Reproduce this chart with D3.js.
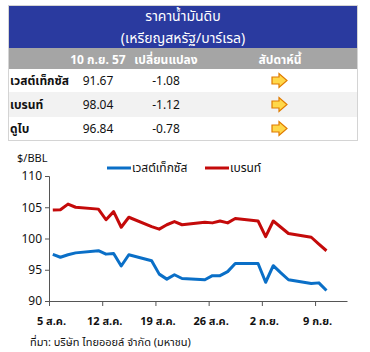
<!DOCTYPE html>
<html>
<head>
<meta charset="utf-8">
<script src="https://cdn.jsdelivr.net/npm/d3@7"></script>
<style>
  body { margin: 0; background: #fff; font-family: Tahoma, "Noto Sans Thai", "Liberation Sans", sans-serif; }
  svg text { font-family: Tahoma, "Noto Sans Thai", "Liberation Sans", sans-serif; }
</style>
</head>
<body>
<svg id="chart" width="370" height="352"></svg>
<script>
// table data
const tableTitle = ["ราคาน้ำมันดิบ", "(เหรียญสหรัฐ/บาร์เรล)"];
const tableHeads = ["10 ก.ย. 57", "เปลี่ยนแปลง", "สัปดาห์นี้"];
const crudeNames = ["เวสต์เท็กซัส", "เบรนท์", "ดูไบ"];
const crudePrices = ["91.67", "98.04", "96.84"];
const crudeChanges = ["-1.08", "-1.12", "-0.78"];

// chart data (day offset from 5 Aug 2014)
const days = [0, 1, 2, 3, 6, 7, 8, 9, 10, 13, 14, 15, 16, 17, 20, 21, 22, 23, 24, 27, 28, 29, 30, 31, 34, 35, 36];
const wti = [97.45, 97.0, 97.4, 97.7, 98.05, 97.5, 97.6, 95.6, 97.4, 96.45, 94.3, 93.5, 94.2, 93.6, 93.4, 94.05, 94.05, 94.7, 96.0, 96.0, 93.0, 95.65, 94.5, 93.4, 92.8, 92.9, 91.67];
const brent = [104.55, 104.6, 105.5, 105.0, 104.7, 103.0, 104.3, 101.8, 103.4, 101.9, 101.5, 102.2, 102.7, 102.2, 102.6, 102.5, 102.8, 102.5, 103.2, 102.8, 100.3, 102.8, 101.8, 100.8, 100.2, 99.1, 98.04];
const yTicks = [90, 95, 100, 105, 110];
const xTickDays = [0, 7, 14, 21, 28, 35];
const xTickLabels = ["5 ส.ค.", "12 ส.ค.", "19 ส.ค.", "26 ส.ค.", "2 ก.ย.", "9 ก.ย."];
const seriesNames = ["เวสต์เท็กซัส", "เบรนท์"];
const seriesColors = ["#0A6FC7", "#C40A0A"];

const svg = d3.select("#chart");

// ---------- table ----------
const tb = {left: 8, right: 358, top: 5};
const colX = [10, 98, 166, 280];
const rowTop = [69, 92, 117], rowH = [23, 25, 23];

svg.append("rect").attr("x", tb.left).attr("y", tb.top)
    .attr("width", tb.right - tb.left).attr("height", 43).attr("fill", "#2A3A9F");
svg.append("rect").attr("x", tb.left).attr("y", 48)
    .attr("width", tb.right - tb.left).attr("height", 21).attr("fill", "#A5A5A5");
rowTop.forEach((t, i) => {
    svg.append("rect").attr("x", tb.left).attr("y", t)
        .attr("width", tb.right - tb.left).attr("height", rowH[i])
        .attr("fill", i == 1 ? "#F2F2F2" : "#fff");
});
svg.append("rect").attr("x", tb.left + 0.5).attr("y", tb.top + 0.5)
    .attr("width", tb.right - tb.left - 1).attr("height", 135)
    .attr("fill", "none").attr("stroke", "#D4D4D4");

svg.selectAll("text.title").data(tableTitle).enter().append("text")
    .attr("class", "title")
    .attr("x", 183).attr("y", (d, i) => 21 + i * 22)
    .attr("text-anchor", "middle").attr("fill", "#fff")
    .style("font-size", "14px")
    .text(d => d);

svg.selectAll("text.head").data(tableHeads).enter().append("text")
    .attr("class", "head")
    .attr("x", (d, i) => colX[i + 1]).attr("y", 64)
    .attr("text-anchor", "middle").attr("fill", "#fff")
    .style("font-size", "12px").style("font-weight", "bold")
    .text(d => d);

crudeNames.forEach((n, i) => {
    let cy = rowTop[i] + rowH[i] / 2 + 4;
    svg.append("text").attr("x", colX[0]).attr("y", cy)
        .style("font-size", "12px").style("font-weight", "bold").attr("fill", "#111")
        .text(n);
    svg.append("text").attr("x", colX[1]).attr("y", cy).attr("text-anchor", "middle")
        .style("font-size", "12px").attr("fill", "#111").text(crudePrices[i]);
    svg.append("text").attr("x", colX[2]).attr("y", cy).attr("text-anchor", "middle")
        .style("font-size", "12px").attr("fill", "#111").text(crudeChanges[i]);
    // arrow
    let ax = colX[3] - 8, ay = cy - 4;
    svg.append("path")
        .attr("d", `M${ax},${ay - 3.5} h7 v-3.5 l8,7 l-8,7 v-3.5 h-7 z`)
        .attr("fill", "#FFD84A").attr("stroke", "#E07B00").attr("stroke-width", 1.2);
});

// ---------- line chart ----------
const x = d3.scaleLinear().domain([0, 39.2]).range([49, 347]);
const y = d3.scaleLinear().domain([90, 110]).range([301, 176]);

let yAxis = svg.append("g").attr("transform", "translate(49,0)")
    .call(d3.axisLeft(y).tickValues(yTicks).tickSize(4).tickPadding(3));
yAxis.selectAll("text").style("font-size", "12px").attr("fill", "#111");
yAxis.selectAll("line,path").attr("stroke", "#555");

let xAxis = svg.append("g").attr("transform", "translate(0,301)")
    .call(d3.axisBottom(x).tickValues(xTickDays).tickFormat((d, i) => xTickLabels[i])
        .tickSize(5).tickSizeOuter(0).tickPadding(11));
xAxis.selectAll("text").style("font-size", "11px").style("font-weight", "bold")
    .attr("fill", "#111").attr("dx", "2");
xAxis.selectAll("line,path").attr("stroke", "#555");

svg.append("text").attr("x", 17).attr("y", 162)
    .style("font-size", "11px").attr("fill", "#111").text("$/BBL");

const line = d3.line().x(d => x(d[0] + 0.5)).y(d => y(d[1]));
[wti, brent].forEach((s, k) => {
    svg.append("path").datum(days.map((d, i) => [d, s[i]]))
        .attr("d", line).attr("fill", "none")
        .attr("stroke", seriesColors[k]).attr("stroke-width", 3)
        .attr("stroke-linejoin", "round");
});

// legend
const legX = [107, 205];
seriesNames.forEach((n, k) => {
    svg.append("line").attr("x1", legX[k]).attr("x2", legX[k] + 24)
        .attr("y1", 168).attr("y2", 168)
        .attr("stroke", seriesColors[k]).attr("stroke-width", 3);
    svg.append("text").attr("x", legX[k] + 25).attr("y", 172)
        .style("font-size", "12px").attr("fill", "#111").text(n);
});

svg.append("text").attr("x", 30).attr("y", 346)
    .style("font-size", "11px").attr("fill", "#111")
    .text("ที่มา: บริษัท ไทยออยล์ จำกัด (มหาชน)");
</script>
</body>
</html>
